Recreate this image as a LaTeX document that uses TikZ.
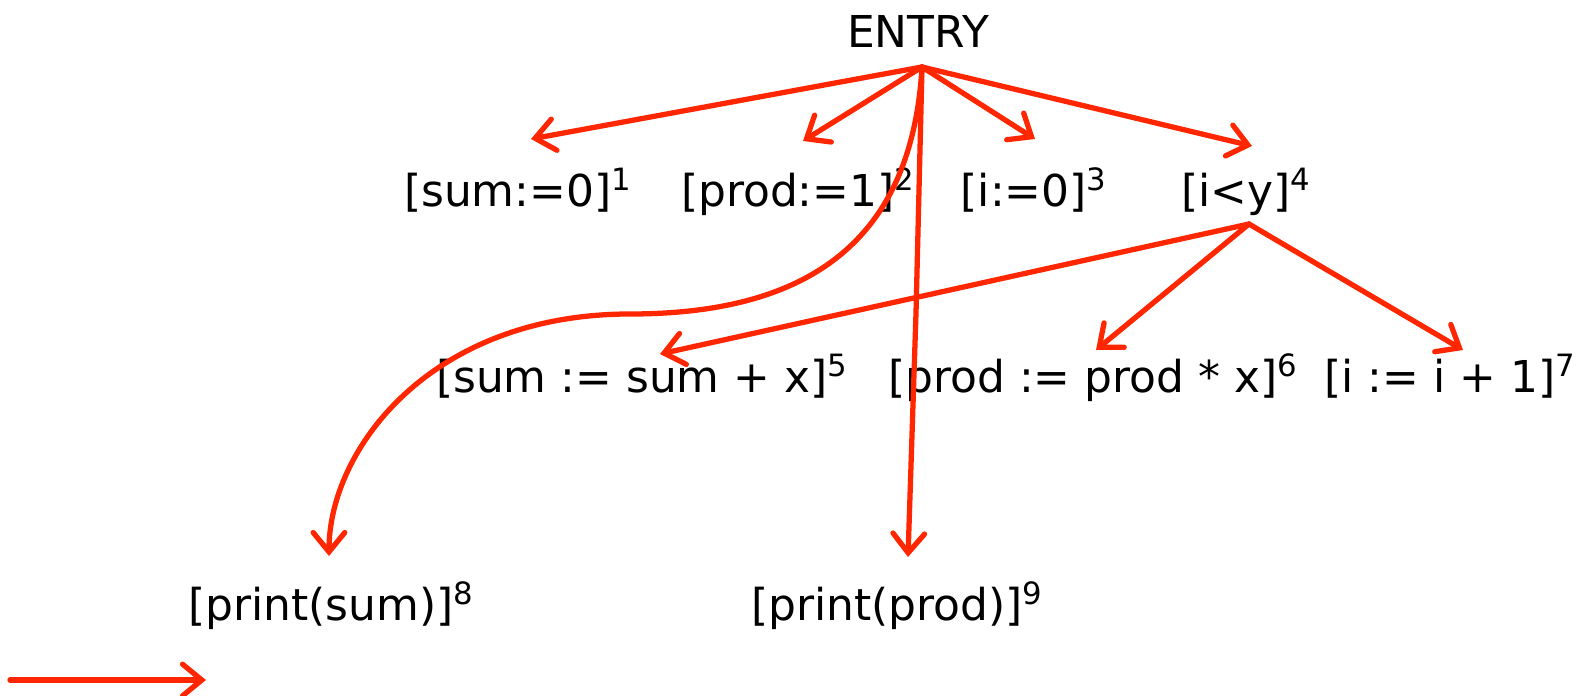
\documentclass[tikz,border=0pt]{standalone}
\usepackage{fontspec}
\setmainfont{DejaVu Sans}
\usetikzlibrary{arrows.meta}
\definecolor{flowred}{RGB}{255,38,0}
\tikzset{
  flow/.style={draw=flowred, line width=3pt, line cap=round, line join=round,
    -{Straight Barb[length=11pt, width=18pt, line cap=round]}},
  blk/.style={anchor=base, inner sep=0pt, font=\fontsize{25}{30}\selectfont}
}
\begin{document}
\begin{tikzpicture}[x=0.02cm, y=-0.02cm]
  \useasboundingbox (0,0) rectangle (1579,696);
  % labels
  \node[blk] (entry) at (918,48) {ENTRY};
  \node[blk] (b1) at (518,206) {[sum:=0]\textsuperscript{1}};
  \node[blk] (b2) at (798,206) {[prod:=1]\textsuperscript{2}};
  \node[blk] (b3) at (1034,206) {[i:=0]\textsuperscript{3}};
  \node[blk] (b4) at (1246,206) {[i<y]\textsuperscript{4}};
  \node[blk] (b5) at (642,392) {[sum := sum + x]\textsuperscript{5}};
  \node[blk] (b6) at (1093,392) {[prod := prod * x]\textsuperscript{6}};
  \node[blk] (b7) at (1450,392) {[i := i + 1]\textsuperscript{7}};
  \node[blk] (b8) at (331,620) {[print(sum)]\textsuperscript{8}};
  \node[blk] (b9) at (897,620) {[print(prod)]\textsuperscript{9}};
  % tails and tips
  \coordinate (entryfoot) at (922,67);
  \coordinate (b4foot) at (1249,224);
  \coordinate (t1) at (531,139);
  \coordinate (t2) at (803,141);
  \coordinate (t3) at (1035,139);
  \coordinate (t4) at (1252,146);
  \coordinate (t5) at (660,354);
  \coordinate (t6) at (1096,350);
  \coordinate (t7) at (1463,350);
  \coordinate (t8) at (329,556);
  \coordinate (t9) at (908,557);
  \coordinate (bend8) at (630,314);
  \coordinate (kink9) at (916,313);
  % edges
  \draw[flow] (entryfoot) -- (t1);
  \draw[flow] (entryfoot) -- (t2);
  \draw[flow] (entryfoot) -- (t3);
  \draw[flow] (entryfoot) -- (t4);
  \draw[flow] (entryfoot) .. controls (912,240) and (810,314) .. (bend8)
    .. controls (430,314) and (329,450) .. (t8);
  \draw[flow] (entryfoot) -- (kink9) -- (t9);
  \draw[flow] (b4foot) -- (t5);
  \draw[flow] (b4foot) -- (t6);
  \draw[flow] (b4foot) -- (t7);
  % legend arrow
  \coordinate (legA) at (10,680);
  \coordinate (legB) at (206,680);
  \draw[flow] (legA) -- (legB);
\end{tikzpicture}
\end{document}
